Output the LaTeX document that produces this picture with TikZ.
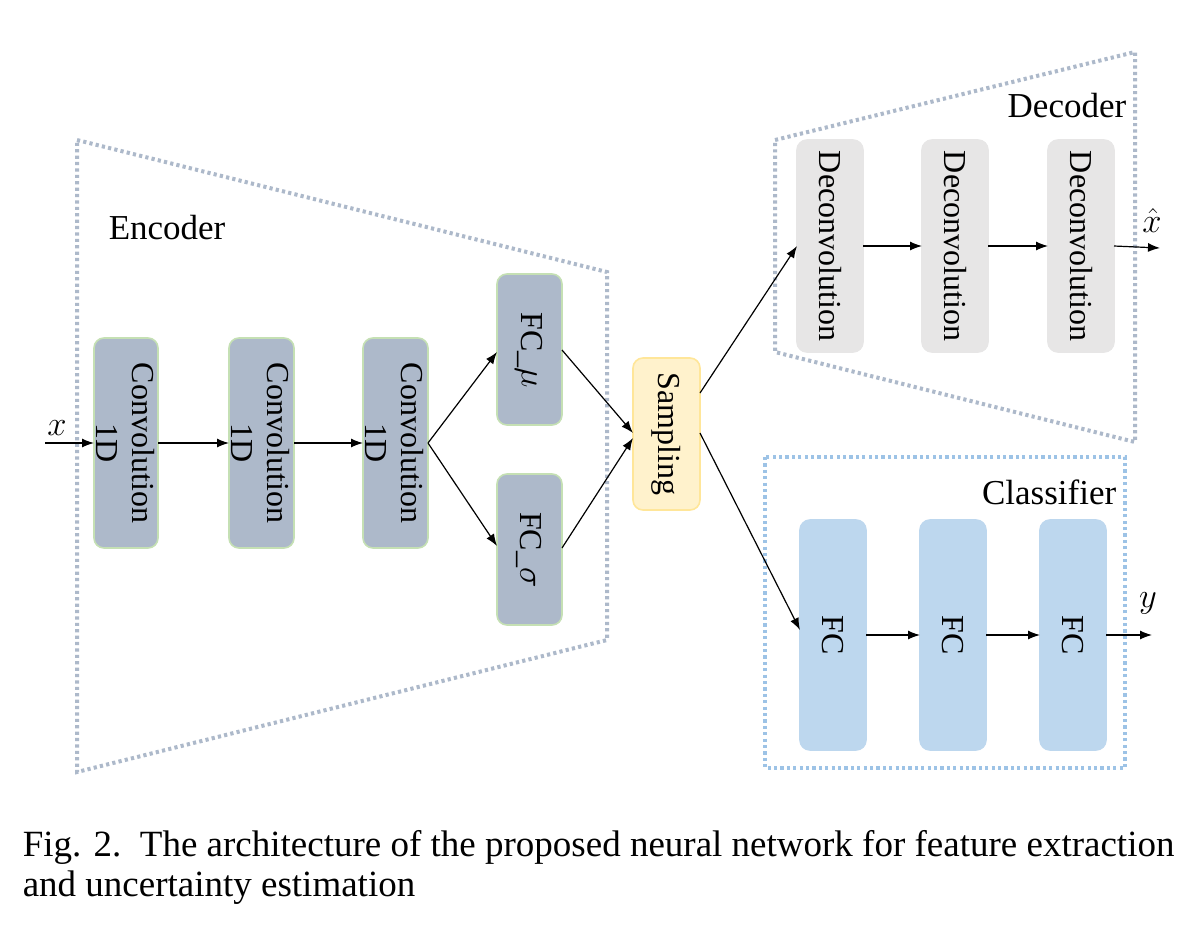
\documentclass[tikz,border=0pt]{standalone}
\usepackage{fontspec}
\setmainfont{Liberation Serif}
\usetikzlibrary{arrows.meta}
\definecolor{encfill}{HTML}{ADB9CA}
\definecolor{greenline}{HTML}{C5E0B4}
\definecolor{sampfill}{HTML}{FFF2CC}
\definecolor{sampline}{HTML}{FFE699}
\definecolor{decfill}{HTML}{E7E6E6}
\definecolor{clsfill}{HTML}{BDD7EE}
\definecolor{clsline}{HTML}{9DC3E6}
\tikzset{every picture/.style={line width=0.75pt}}
\tikzset{
  block/.style={draw=greenline, rounded corners=5pt, line width=0.8pt},
  blocktext/.style={rotate=-90, align=center, inner sep=0pt, font=\fontsize{16}{18}\selectfont},
  frame/.style={line width=2pt, dash pattern=on 1.6pt off 1.6pt},
  link/.style={-{Latex[length=6pt,width=4.5pt]}, line width=0.6pt},
  label/.style={font=\fontsize{17.5}{17.5}\selectfont, inner sep=0pt}
}
\begin{document}
\begin{tikzpicture}[x=0.5pt,y=-0.5pt]
\useasboundingbox (0,0) rectangle (1200,948);

% frames
\draw[frame, draw=encfill] (77,140) -- (607,272) -- (607,640) -- (77,772) -- cycle;
\draw[frame, draw=encfill] (775,140) -- (1135,52) -- (1135,442) -- (775,352) -- cycle;
\draw[frame, draw=clsline] (765,457) rectangle (1125,768);
\node[label, anchor=west] (enc) at (108,228) {Encoder};
\node[label, anchor=east] (dec) at (1127,106) {Decoder};
\node[label, anchor=east] (cls) at (1117,492) {Classifier};

% encoder blocks
\draw[block, fill=encfill] (94,338) rectangle (158,548);
\node[blocktext] (conv1) at (126,443) {Convolution\\1D};
\draw[block, fill=encfill] (229,338) rectangle (294,548);
\node[blocktext] (conv2) at (261,443) {Convolution\\1D};
\draw[block, fill=encfill] (363,338) rectangle (428,548);
\node[blocktext] (conv3) at (395,443) {Convolution\\1D};
\draw[block, fill=encfill] (497,274) rectangle (562,425);
\node[blocktext] (fcmu) at (529,350) {FC\_$\mu$};
\draw[block, fill=encfill] (497,474) rectangle (562,625);
\node[blocktext] (fcsig) at (529,550) {FC\_$\sigma$};

% sampling
\draw[block, draw=sampline, fill=sampfill] (633,358) rectangle (700,510);
\node[blocktext] (samp) at (666,434) {Sampling};

% decoder
\foreach \i/\x in {1/797,2/922,3/1048}{
  \draw[block, draw=decfill, fill=decfill] (\x,140) rectangle (\x+66,352);
  \node[blocktext] (deconv\i) at (\x+33,246) {Deconvolution};
}
% classifier
\foreach \i/\x in {1/800,2/920,3/1040}{
  \draw[block, draw=clsfill, fill=clsfill] (\x,520) rectangle (\x+66,750);
  \node[blocktext] (fc\i) at (\x+33,635) {FC};
}

% inputs and outputs
\coordinate (xin) at (45,443);
\node[label] (xlab) at (57,428) {$x$};
\coordinate (xout) at (1160,248);
\node[label] (xhat) at (1152,220) {$\hat{x}$};
\coordinate (yout) at (1152,635);
\node[label] (ylab) at (1148,603) {$y$};

% connectors
\draw[link] (xin) -- (94,443);
\draw[link] (158,443) -- (229,443);
\draw[link] (294,443) -- (363,443);
\draw[link] (428,443) -- (497,352);
\draw[link] (428,443) -- (497,546);
\draw[link] (562,350) -- (633,433);
\draw[link] (562,548) -- (633,438);
\draw[link] (700,393) -- (797,246);
\draw[link] (700,433) -- (800,630);
\draw[link] (863,246) -- (922,246);
\draw[link] (988,246) -- (1048,246);
\draw[link] (1114,246) -- (xout);
\draw[link] (866,635) -- (920,635);
\draw[link] (986,635) -- (1040,635);
\draw[link] (1106,635) -- (yout);

% caption
\node[anchor=north west, align=left, inner sep=0pt, font=\fontsize{18.5}{20}\selectfont] (cap) at (22,830)
  {Fig. 2.\ \ The architecture of the proposed neural network for feature extraction\\and uncertainty estimation};
\end{tikzpicture}
\end{document}
